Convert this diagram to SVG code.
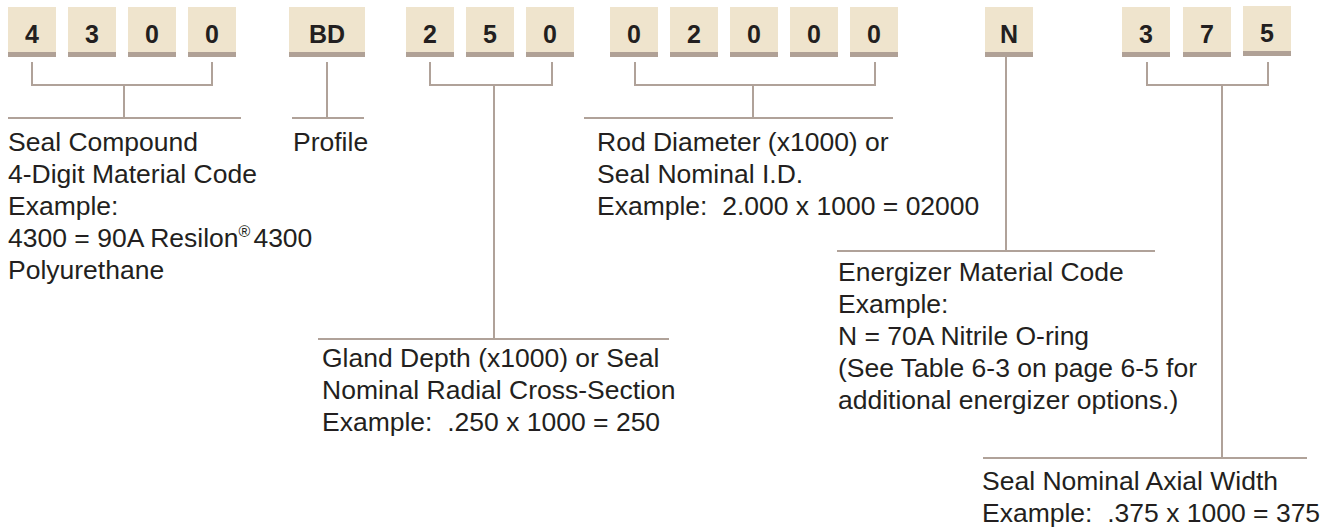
<svg xmlns="http://www.w3.org/2000/svg" width="1338" height="529" viewBox="0 0 1338 529">
<style>
.box{fill:#EFE4CD}
.band{fill:#B0A196}
.d{font-family:"Liberation Sans",Arial,sans-serif;font-weight:bold;font-size:25px;fill:#231F20;text-anchor:middle}
.t{font-family:"Liberation Sans",Arial,sans-serif;font-size:26.5px;fill:#231F20}
.c{fill:none;stroke:#B0A299;stroke-width:2}
</style>
<rect width="1338" height="529" fill="#fff"/>
<g id="connectors" class="c">
<path d="M32,62 V85 H212 V62 M124,85 V118 M8,118 H241"/>
<path d="M327,62 V118 M292,118 H364"/>
<path d="M430,62 V85 H552 V62 M494,85 V339 M318,339 H669"/>
<path d="M635,62 V85 H875 V62 M753,85 V118 M584,118 H893"/>
<path d="M1006,57 V251 M837,251 H1155"/>
<path d="M1147,62 V85 H1268 V62 M1222,85 V458 M983,458 H1307"/>
</g>
<g id="n-4"><rect class="box" x="8" y="7" width="48" height="50"/><rect class="band" x="8" y="52" width="48" height="5"/><text class="d" x="32" y="43">4</text></g>
<g id="n-3"><rect class="box" x="68" y="7" width="48" height="50"/><rect class="band" x="68" y="52" width="48" height="5"/><text class="d" x="92" y="43">3</text></g>
<g id="n-0a"><rect class="box" x="128" y="7" width="48" height="50"/><rect class="band" x="128" y="52" width="48" height="5"/><text class="d" x="152" y="43">0</text></g>
<g id="n-0b"><rect class="box" x="188" y="7" width="48" height="50"/><rect class="band" x="188" y="52" width="48" height="5"/><text class="d" x="212" y="43">0</text></g>
<g id="n-BD"><rect class="box" x="289" y="7" width="76" height="50"/><rect class="band" x="289" y="52" width="76" height="5"/><text class="d" x="327" y="43">BD</text></g>
<g id="n-2"><rect class="box" x="406" y="7" width="48" height="50"/><rect class="band" x="406" y="52" width="48" height="5"/><text class="d" x="430" y="43">2</text></g>
<g id="n-5"><rect class="box" x="466" y="7" width="48" height="50"/><rect class="band" x="466" y="52" width="48" height="5"/><text class="d" x="490" y="43">5</text></g>
<g id="n-0c"><rect class="box" x="526" y="7" width="48" height="50"/><rect class="band" x="526" y="52" width="48" height="5"/><text class="d" x="550" y="43">0</text></g>
<g id="n-0d"><rect class="box" x="610" y="7" width="48" height="50"/><rect class="band" x="610" y="52" width="48" height="5"/><text class="d" x="634" y="43">0</text></g>
<g id="n-2b"><rect class="box" x="670" y="7" width="48" height="50"/><rect class="band" x="670" y="52" width="48" height="5"/><text class="d" x="694" y="43">2</text></g>
<g id="n-0e"><rect class="box" x="730" y="7" width="48" height="50"/><rect class="band" x="730" y="52" width="48" height="5"/><text class="d" x="754" y="43">0</text></g>
<g id="n-0f"><rect class="box" x="790" y="7" width="48" height="50"/><rect class="band" x="790" y="52" width="48" height="5"/><text class="d" x="814" y="43">0</text></g>
<g id="n-0g"><rect class="box" x="850" y="7" width="48" height="50"/><rect class="band" x="850" y="52" width="48" height="5"/><text class="d" x="874" y="43">0</text></g>
<g id="n-N"><rect class="box" x="985" y="7" width="48" height="50"/><rect class="band" x="985" y="52" width="48" height="5"/><text class="d" x="1009" y="43">N</text></g>
<g id="n-3b"><rect class="box" x="1122" y="7" width="48" height="50"/><rect class="band" x="1122" y="52" width="48" height="5"/><text class="d" x="1146" y="43">3</text></g>
<g id="n-7"><rect class="box" x="1183" y="7" width="48" height="50"/><rect class="band" x="1183" y="52" width="48" height="5"/><text class="d" x="1207" y="43">7</text></g>
<g id="n-5b"><rect class="box" x="1243" y="6" width="48" height="50"/><rect class="band" x="1243" y="51" width="48" height="5"/><text class="d" x="1267" y="42">5</text></g>
<g id="label-compound" class="t">
<text x="8" y="151">Seal Compound</text>
<text x="8" y="183">4-Digit Material Code</text>
<text x="8" y="215">Example:</text>
<text x="8" y="247">4300 = 90A Resilon<tspan font-size="16" dy="-10">®</tspan><tspan dy="10" dx="3">4300</tspan></text>
<text x="8" y="279">Polyurethane</text>
</g>
<g id="label-profile" class="t"><text x="293" y="151">Profile</text></g>
<g id="label-rod" class="t">
<text x="597" y="151">Rod Diameter (x1000) or</text>
<text x="597" y="183">Seal Nominal I.D.</text>
<text x="597" y="215" xml:space="preserve">Example:  2.000 x 1000 = 02000</text>
</g>
<g id="label-gland" class="t">
<text x="322" y="367">Gland Depth (x1000) or Seal</text>
<text x="322" y="399">Nominal Radial Cross-Section</text>
<text x="322" y="431" xml:space="preserve">Example:  .250 x 1000 = 250</text>
</g>
<g id="label-energizer" class="t">
<text x="838" y="281">Energizer Material Code</text>
<text x="838" y="313">Example:</text>
<text x="838" y="345">N = 70A Nitrile O-ring</text>
<text x="838" y="377">(See Table 6-3 on page 6-5 for</text>
<text x="838" y="409">additional energizer options.)</text>
</g>
<g id="label-axial" class="t">
<text x="982" y="490">Seal Nominal Axial Width</text>
<text x="982" y="522" xml:space="preserve">Example:  .375 x 1000 = 375</text>
</g>
</svg>
